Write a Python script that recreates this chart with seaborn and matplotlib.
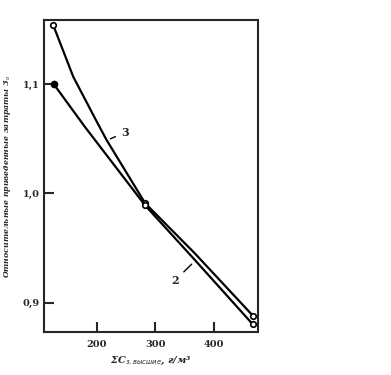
import pandas as pd
import matplotlib.pyplot as plt
import seaborn as sns

# readings
x_curve3 = [126, 160, 203, 217, 283, 368, 467]
y_curve3 = [1.154, 1.107, 1.063, 1.049, 0.991, 0.945, 0.888]
x_curve2 = [127, 180, 283, 368, 467]
y_curve2 = [1.100, 1.061, 0.989, 0.939, 0.880]

x_ticks = [200, 300, 400]
y_ticks = [0.9, 1.0, 1.1]
y_tick_labels = ['0,9', '1,0', '1,1']

df = pd.concat([
    pd.DataFrame({'x': x_curve3, 'y': y_curve3, 'curve': '3'}),
    pd.DataFrame({'x': x_curve2, 'y': y_curve2, 'curve': '2'}),
])

sns.set_style('ticks')
plt.rcParams['font.family'] = ['DejaVu Serif']

fig = plt.figure(figsize=(3.91, 3.75), dpi=100)
ax = fig.add_axes([0.1125, 0.1147, 0.5475, 0.832])

sns.lineplot(data=df, x='x', y='y', hue='curve', palette=['black', 'black'],
             sort=False, legend=False, linewidth=1.6, ax=ax)

# end markers
ax.plot([x_curve3[0], x_curve3[-1], x_curve3[4]], [y_curve3[0], y_curve3[-1], y_curve3[4]],
        'o', mfc='white', mec='black', ms=4, mew=1.2)
ax.plot([x_curve2[-1], x_curve2[2]], [y_curve2[-1], y_curve2[2]],
        'o', mfc='white', mec='black', ms=4, mew=1.2)
ax.plot([x_curve2[0]], [y_curve2[0]], 'o', color='black', ms=4.5)

# curve labels
ax.annotate('3', xy=(219, 1.049), xytext=(242, 1.056), fontsize=8, fontweight='bold',
            va='center', ha='left', arrowprops=dict(arrowstyle='-', color='black', lw=1))
ax.annotate('2', xy=(366, 0.937), xytext=(340, 0.92), fontsize=8, fontweight='bold',
            va='center', ha='right', arrowprops=dict(arrowstyle='-', color='black', lw=1))

ax.set_xlim(110, 476)
ax.set_ylim(0.873, 1.159)
ax.set_xticks(x_ticks)
ax.set_xticklabels([str(t) for t in x_ticks])
ax.set_yticks(y_ticks)
ax.set_yticklabels(y_tick_labels)
ax.tick_params(direction='in', length=7, width=1.5, labelsize=7, pad=6)
ax.tick_params(axis='y', pad=3)
for lab in ax.get_xticklabels() + ax.get_yticklabels():
    lab.set_fontweight('bold')
for s in ax.spines.values():
    s.set_linewidth(1.5)

ax.set_xlabel('ΣC$_{з.высшие}$, г/м³', fontsize=7, fontweight='bold', style='italic', labelpad=4)
ax.set_ylabel('Относительные приведенные затраты З$_о$', fontsize=5.6, fontweight='bold',
              style='italic', labelpad=7)

fig.savefig('out.png', dpi=100)
